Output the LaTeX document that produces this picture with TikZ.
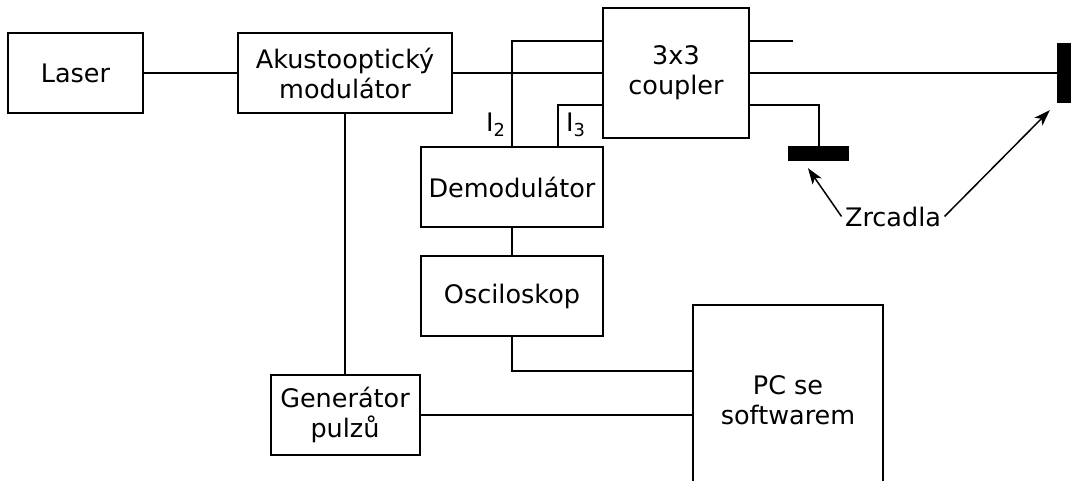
\documentclass[tikz,border=0pt]{standalone}
\usepackage{fontspec}
\setmainfont{DejaVu Sans}
\usepackage{tikz}
\usetikzlibrary{arrows.meta}

\tikzset{
   blok/.style={draw, line width=2pt, align=center, inner sep=0pt},
   vodic/.style={line width=2pt},
   zrcadlo/.style={fill=black, draw=none, inner sep=0pt},
}

\begin{document}
\begin{tikzpicture}[x=1pt, y=-1pt, >={Stealth[length=16pt,width=11pt,inset=4pt]},
   font=\fontsize{25.5}{30}\selectfont]
   \clip (0,0) rectangle (1071,481);

   \node[blok, minimum width=135pt, minimum height=80pt] (laser) at (75.5,73) {Laser};
   \node[blok, minimum width=214pt, minimum height=80pt] (aom) at (345,73) {Akustooptický\\modulátor};
   \node[blok, minimum width=146pt, minimum height=130pt] (coupler) at (676,73) {3x3\\coupler};
   \node[blok, minimum width=182pt, minimum height=80pt] (demod) at (512,187) {Demodulátor};
   \node[blok, minimum width=182pt, minimum height=80pt] (osc) at (512,296) {Osciloskop};
   \node[blok, minimum width=149pt, minimum height=80pt] (gen) at (345,415) {Generátor\\pulzů};
   \node[blok, minimum width=190pt, minimum height=190pt] (pc) at (788,400) {PC se\\softwarem};

   \node[zrcadlo, minimum width=61pt, minimum height=15pt] (mirror1) at (818.5,153.5) {};
   \node[zrcadlo, minimum width=15pt, minimum height=60pt] (mirror2) at (1064.5,73) {};
   \coordinate (free) at (793,41);

   \node[anchor=base west, inner sep=0pt] (i2) at (486,132) {I\textsubscript{2}};
   \node[anchor=base west, inner sep=0pt] (i3) at (566,132) {I\textsubscript{3}};
   \node[anchor=base] (zr) at (893,226) {Zrcadla};

   \draw [vodic] (laser) -- (aom);
   \draw [vodic] (aom) -- (coupler);
   \draw [vodic] (aom) -- (gen);
   \draw [vodic] (demod.north) |- ([yshift=32pt]coupler.west);
   \draw [vodic] ([xshift=46pt]demod.north) |- ([yshift=-32pt]coupler.west);
   \draw [vodic] (demod) -- (osc);
   \draw [vodic] (osc.south) |- ([yshift=29pt]pc.west);
   \draw [vodic] (gen.east) -- (gen.east -| pc.west);
   \draw [vodic] ([yshift=32pt]coupler.east) -- (free);
   \draw [vodic] (coupler.east) -- (mirror2.west);
   \draw [vodic] ([yshift=-32pt]coupler.east) -| (mirror1.north);

   \draw [->, line width=1.5pt] (zr.west) -- ([xshift=-10.5pt,yshift=-7pt]mirror1.south);
   \draw [->, line width=1.5pt] (zr.east) -- ([xshift=-7pt,yshift=-7pt]mirror2.south west);
 \end{tikzpicture}
\end{document}
